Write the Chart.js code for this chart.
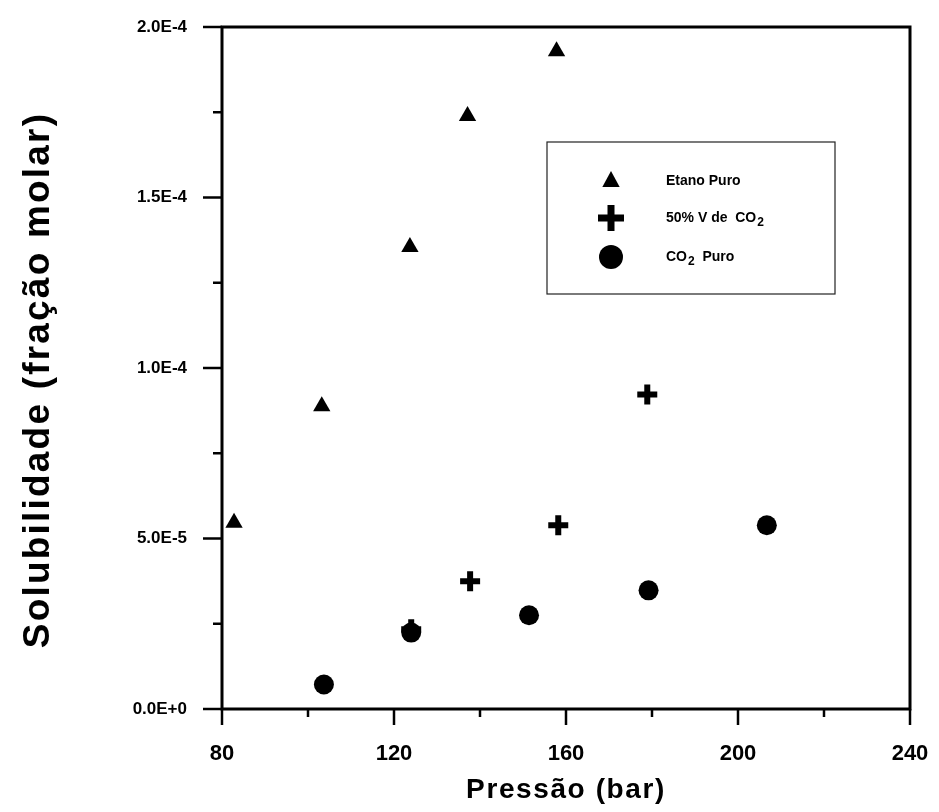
<!DOCTYPE html>
<html>
<head>
<meta charset="utf-8">
<script src="https://cdn.jsdelivr.net/npm/chart.js@4.4.1/dist/chart.umd.min.js"></script>
<style>
  html, body { margin: 0; background: #fff; }
  canvas { display: block; }
</style>
</head>
<body>
<canvas id="solChart" width="939" height="812"></canvas>
<script>
const FONT = "'Liberation Sans', Arial, sans-serif";

const seriesNames = ['Etano Puro', '50% V de  CO₂', 'CO₂  Puro'];

// pressure (bar) / solubility (mole fraction)
const etanoP = [82.8, 103.2, 123.7, 137.1, 157.8];
const etanoS = [5.46e-5, 8.88e-5, 1.355e-4, 1.739e-4, 1.929e-4];

const misturaP = [124.0, 137.7, 158.2, 178.9];
const misturaS = [2.34e-5, 3.75e-5, 5.39e-5, 9.22e-5];

const co2P = [103.7, 124.0, 151.4, 179.2, 206.7];
const co2S = [7.2e-6, 2.24e-5, 2.75e-5, 3.48e-5, 5.39e-5];

const xMajor = [80, 120, 160, 200, 240];
const yMajor = [0, 5e-5, 1e-4, 1.5e-4, 2e-4];

const toPoints = (xs, ys) => xs.map((x, i) => ({ x: x, y: ys[i] }));

// fixed box sizes, no extra padding for overhanging labels
const fixBox = (w, h) => s => {
  if (w) s.width = w;
  if (h) s.height = h;
  s.paddingTop = s.paddingBottom = s.paddingLeft = s.paddingRight = 0;
};

// axis titles get a bit of letter spacing (y title sits a little low)
const spacedTitles = {
  id: 'spacedTitles',
  afterUpdate(chart) {
    [['x', '1.6px', 0], ['y', '2.2px', 12]].forEach(([id, sp, dy]) => {
      const s = chart.scales[id];
      if (!s || s._spaced) return;
      const orig = s.drawTitle.bind(s);
      s.drawTitle = function () {
        this.ctx.save();
        this.ctx.letterSpacing = sp;
        this.ctx.translate(0, dy);
        orig();
        this.ctx.restore();
      };
      s._spaced = true;
    });
  }
};

// axis frame + major/minor tick marks
const frameTicks = {
  id: 'frameTicks',
  afterDraw(chart) {
    const { ctx, chartArea: a, scales: { x, y } } = chart;
    ctx.save();
    ctx.strokeStyle = '#000';
    ctx.lineWidth = 3;
    ctx.strokeRect(a.left, a.top, a.right - a.left, a.bottom - a.top);
    ctx.lineWidth = 2.5;
    x.ticks.forEach(t => {
      const px = x.getPixelForValue(t.value);
      const len = t.label ? 16 : 8;
      ctx.beginPath();
      ctx.moveTo(px, a.bottom);
      ctx.lineTo(px, a.bottom + len);
      ctx.stroke();
    });
    y.ticks.forEach(t => {
      const py = y.getPixelForValue(t.value);
      const len = t.label ? 19 : 9;
      ctx.beginPath();
      ctx.moveTo(a.left, py);
      ctx.lineTo(a.left - len, py);
      ctx.stroke();
    });
    ctx.restore();
  }
};

// boxed legend inside the plot, with subscript 2 in CO2
const boxLegend = {
  id: 'boxLegend',
  afterDraw(chart) {
    const ctx = chart.ctx;
    const box = { x: 547, y: 142, w: 288, h: 152 };
    const rows = [181, 218, 257];
    const symX = 611, textX = 666;
    ctx.save();
    ctx.strokeStyle = '#222';
    ctx.lineWidth = 1.2;
    ctx.strokeRect(box.x, box.y, box.w, box.h);
    ctx.fillStyle = '#000';
    ctx.strokeStyle = '#000';

    // triangle
    let cy = rows[0], r = 10;
    ctx.beginPath();
    ctx.moveTo(symX, cy - r);
    ctx.lineTo(symX + r * 0.866, cy + r / 2 + 1);
    ctx.lineTo(symX - r * 0.866, cy + r / 2 + 1);
    ctx.closePath();
    ctx.fill();
    // plus
    cy = rows[1];
    ctx.lineWidth = 7;
    ctx.beginPath();
    ctx.moveTo(symX - 13, cy); ctx.lineTo(symX + 13, cy);
    ctx.moveTo(symX, cy - 13); ctx.lineTo(symX, cy + 13);
    ctx.stroke();
    // circle
    ctx.beginPath();
    ctx.arc(symX, rows[2], 12, 0, Math.PI * 2);
    ctx.fill();

    ctx.textBaseline = 'middle';
    seriesNames.forEach((name, i) => {
      const parts = name.split('₂');
      let tx = textX;
      parts.forEach((p, j) => {
        ctx.font = 'bold 14px ' + FONT;
        ctx.fillText(p, tx, rows[i]);
        tx += ctx.measureText(p).width;
        if (j < parts.length - 1) {
          ctx.font = 'bold 12px ' + FONT;
          ctx.fillText('2', tx + 1, rows[i] + 5);
          tx += ctx.measureText('2').width + 1;
        }
      });
    });
    ctx.restore();
  }
};

new Chart(document.getElementById('solChart'), {
  type: 'scatter',
  data: {
    datasets: [
      {
        label: seriesNames[0],
        data: toPoints(etanoP, etanoS),
        pointStyle: 'triangle',
        pointRadius: 10,
        backgroundColor: '#000',
        borderColor: '#000',
        borderWidth: 0,
        order: 2
      },
      {
        label: seriesNames[1],
        data: toPoints(misturaP, misturaS),
        pointStyle: 'cross',
        pointRadius: 10,
        backgroundColor: '#000',
        borderColor: '#000',
        borderWidth: 6,
        order: 1
      },
      {
        label: seriesNames[2],
        data: toPoints(co2P, co2S),
        pointStyle: 'circle',
        pointRadius: 10,
        backgroundColor: '#000',
        borderColor: '#000',
        borderWidth: 0,
        order: 0
      }
    ]
  },
  options: {
    responsive: false,
    animation: false,
    devicePixelRatio: 1,
    layout: { padding: { top: 27, right: 29, left: 0, bottom: 0 } },
    plugins: {
      legend: { display: false },
      tooltip: { enabled: false }
    },
    scales: {
      x: {
        type: 'linear',
        min: 80,
        max: 240,
        afterFit: fixBox(0, 103),
        grid: { display: false, drawTicks: false },
        border: { display: false },
        ticks: {
          stepSize: 20,
          padding: 32,
          autoSkip: false,
          maxRotation: 0,
          color: '#000',
          font: { family: FONT, size: 22, weight: 'bold' },
          callback: v => xMajor.includes(v) ? String(v) : ''
        },
        title: {
          display: true,
          text: 'Pressão (bar)',
          color: '#000',
          font: { family: FONT, size: 28, weight: 'bold', lineHeight: 1.2 },
          padding: { top: 5, bottom: 5 }
        }
      },
      y: {
        type: 'linear',
        min: 0,
        max: 2e-4,
        afterFit: fixBox(222, 0),
        grid: { display: false, drawTicks: false },
        border: { display: false },
        ticks: {
          stepSize: 2.5e-5,
          padding: 35,
          autoSkip: false,
          color: '#000',
          font: { family: FONT, size: 17, weight: 'bold' },
          callback: v => {
            const m = yMajor.find(t => Math.abs(t - v) < 1e-10);
            return m === undefined ? '' : m.toExponential(1).toUpperCase();
          }
        },
        title: {
          display: true,
          text: 'Solubilidade (fração molar)',
          color: '#000',
          font: { family: FONT, size: 37, weight: 'bold', lineHeight: 1.2 },
          padding: { top: 17, bottom: 17 }
        }
      }
    }
  },
  plugins: [spacedTitles, frameTicks, boxLegend]
});
</script>
</body>
</html>
